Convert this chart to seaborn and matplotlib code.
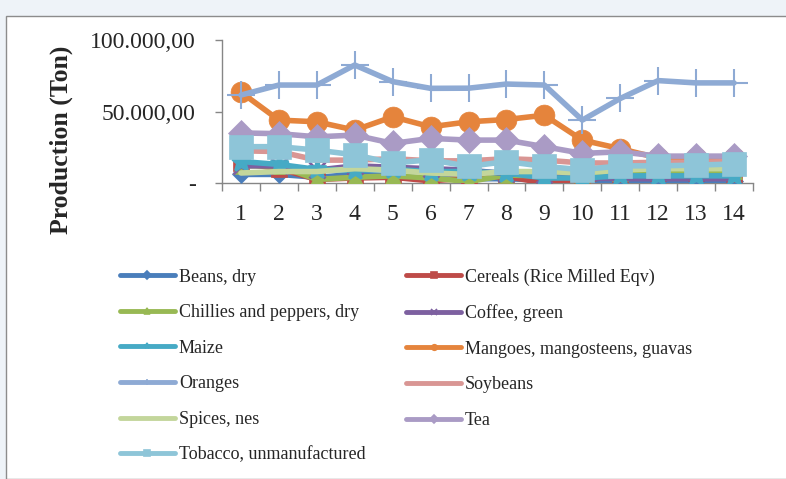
import matplotlib
matplotlib.use("Agg")
import matplotlib.pyplot as plt
import matplotlib.patches as mpatches
from matplotlib.ticker import FixedLocator
import seaborn as sns
import pandas as pd

years = list(range(1, 15))
series_names = ["Beans, dry", "Cereals (Rice Milled Eqv)", "Chillies and peppers, dry",
                "Coffee, green", "Maize", "Mangoes, mangosteens, guavas", "Oranges",
                "Soybeans", "Spices, nes", "Tea", "Tobacco, unmanufactured"]

beans = [6000, 6000, 4000, 6000, 5000, 3000, 3000, 3000, 2000, 2000, 1500, 1500, 1500, 1500]
cereals = [14000, 10000, 2500, 3500, 4000, 1500, 3500, 4500, 0, 1000, 6500, 7000, 7000, 6500]
chillies = [12000, 12000, 2500, 4000, 5000, 3500, 1000, 5500, 5000, 5000, 7000, 8500, 8500, 8500]
coffee = [12000, 12000, 9000, 12000, 11000, 10000, 9000, 6500, 5500, 3500, 3000, 3000, 3000, 3000]
maize = [15000, 13000, 9500, 9000, 9500, 8000, 8000, 7000, 3500, 3500, 5000, 5000, 5000, 5000]
mangoes = [63500, 44000, 42800, 37000, 46300, 39300, 42800, 44400, 47400, 30000, 24000, 17500, 17500, 17500]
oranges = [61500, 68500, 68500, 82500, 70900, 66200, 66300, 69200, 68500, 44000, 59100, 71600, 70000, 70000]
soybeans = [22500, 22000, 16000, 16000, 17000, 15500, 15500, 17000, 16000, 14000, 14000, 14500, 14500, 15000]
spices = [7000, 8000, 8000, 10000, 9000, 7000, 6000, 8000, 8000, 7000, 9000, 10000, 10000, 10000]
tea = [35000, 34500, 32300, 33500, 27700, 31200, 30000, 30000, 25400, 20700, 21800, 18800, 18800, 18800]
tobacco = [25400, 25400, 23000, 19700, 13900, 16300, 11600, 15000, 11600, 9300, 12000, 12000, 12500, 13300]

values = [beans, cereals, chillies, coffee, maize, mangoes, oranges, soybeans, spices, tea, tobacco]

colors = ["#4a7ebb", "#be4b48", "#98b954", "#7d60a0", "#46aac5", "#e5843c",
          "#8eaad4", "#d99694", "#c3d69b", "#aa9bc5", "#8ec5d8"]
markers = ["D", "s", "^", "x", "*", "o", "+", None, None, "D", "s"]
msizes = [9, 11, 11, 11, 14, 15, 20, 0, 0, 13, 17]

rows = []
for name, vals in zip(series_names, values):
    for yr, v in zip(years, vals):
        rows.append({"Year": yr, "Production": v, "Series": name})
df = pd.DataFrame(rows)

sns.set_style("white")
plt.rcParams["font.family"] = ["Liberation Serif", "DejaVu Serif"]

fig = plt.figure(figsize=(7.86, 4.79), dpi=100)
fig.patch.set_facecolor("#eef3f8")
frame = mpatches.Rectangle((6 / 786, 0), 1.0, (479 - 16) / 479, transform=fig.transFigure,
                           facecolor="white", edgecolor="#8c8c8c", linewidth=1.0, zorder=-10)
fig.patches.append(frame)

ax = fig.add_axes([222 / 786, 1 - 183 / 479, (753 - 222) / 786, (183 - 40) / 479])
ax.set_facecolor("none")
ax.set_zorder(1)

handles = []
for i, name in enumerate(series_names):
    sub = df[df["Series"] == name]
    mk = markers[i]
    kw = dict(linewidth=4.0, color=colors[i], zorder=3 + i)
    if mk is not None:
        kw.update(marker=mk, markersize=msizes[i], markeredgecolor=colors[i],
                  markerfacecolor=colors[i])
        if mk in ("+", "x", "*"):
            kw.update(markeredgewidth=2.0 if mk != "+" else 1.5)
        else:
            kw.update(markeredgewidth=0.5)
    sns.lineplot(data=sub, x="Year", y="Production", ax=ax, legend=False, **kw)
    h = plt.Line2D([], [], color=colors[i], linewidth=3.5,
                   marker=mk if mk is not None else None,
                   markersize=4 if mk is not None else 0,
                   markeredgecolor=colors[i], markerfacecolor=colors[i],
                   markeredgewidth=1.2)
    handles.append(h)

ax.set_xlim(0.5, 14.5)
ax.set_ylim(0, 100000)
for s in ["top", "right"]:
    ax.spines[s].set_visible(False)
for s in ["left", "bottom"]:
    ax.spines[s].set_color("#868686")
    ax.spines[s].set_linewidth(1.0)

ax.set_xticks(years)
ax.set_xticklabels([str(y) for y in years])
ax.xaxis.set_minor_locator(FixedLocator([x + 0.5 for x in range(0, 15)]))
ax.tick_params(axis="x", which="major", length=0, pad=15, labelsize=17)
ax.tick_params(axis="x", which="minor", length=6, width=1, color="#868686", direction="out", bottom=True)
ax.set_yticks([0, 50000, 100000])
ax.set_yticklabels(["-", "50.000,00", "100.000,00"])
ax.tick_params(axis="y", which="major", length=5, width=1, color="#868686", direction="out",
               left=True, pad=14, labelsize=17)
ax.set_xlabel("")
ax.set_ylabel("Production (Ton)", fontsize=18.5, fontweight="bold")
ax.yaxis.set_label_coords(-0.28, 0.3)

order = [0, 2, 4, 6, 8, 10, 1, 3, 5, 7, 9]
leg = fig.legend([handles[k] for k in order], [series_names[k] for k in order],
                 ncol=2, loc="upper left", bbox_to_anchor=(103.5 / 786, 1 - 252 / 479),
                 frameon=False, fontsize=13, handlelength=3.05, handletextpad=0.22,
                 labelspacing=1.03, columnspacing=2.25)

fig.savefig("out.png", dpi=100)
